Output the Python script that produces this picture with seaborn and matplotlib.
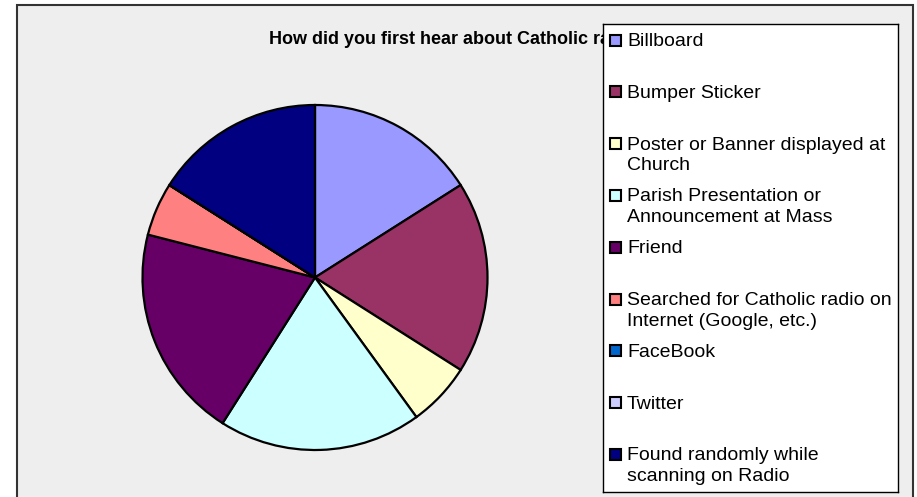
import matplotlib
matplotlib.use("Agg")
import matplotlib.pyplot as plt
from matplotlib.patches import Rectangle
import seaborn as sns

# ---- data ----
sources = [
    "Billboard",
    "Bumper Sticker",
    "Poster or Banner displayed at\nChurch",
    "Parish Presentation or\nAnnouncement at Mass",
    "Friend",
    "Searched for Catholic radio on\nInternet (Google, etc.)",
    "FaceBook",
    "Twitter",
    "Found randomly while\nscanning on Radio",
]
responses = [16, 18, 6, 19, 20, 5, 0, 0, 16]
slice_colors = ["#9999FF", "#993366", "#FFFFCC", "#CCFFFF", "#660066",
                "#FF8080", "#0066CC", "#CCCCFF", "#000080"]
title = "How did you first hear about Catholic radio?"

sns.set_style("white")
plt.rcParams["font.family"] = ["Liberation Sans", "DejaVu Sans"]
plt.rcParams["text.color"] = "black"

W, H = 917, 497
fig = plt.figure(figsize=(W / 100, H / 100), dpi=100, facecolor="white")

# grey chart area with border (open at the bottom)
fig.patches.append(Rectangle((17 / W, -0.05), (913 - 17) / W, (497 - 5) / H + 0.05,
                             transform=fig.transFigure, facecolor="#EEEEEE",
                             edgecolor="#333333", linewidth=1.5, zorder=-1))

# title sits partly behind the legend box, as in the original
fig.text(0.5, 1 - 40 / H, title, ha="center", va="center",
         fontsize=13, fontweight="bold", color="black", zorder=3)

# ---- pie ----
cx, cy, r = 315, 277.5, 172.5
ax = fig.add_axes([(cx - r) / W, (H - cy - r) / H, 2 * r / W, 2 * r / H])
palette = sns.color_palette(slice_colors)
ax.pie(responses, colors=palette, startangle=90, counterclock=False,
       wedgeprops=dict(edgecolor="black", linewidth=1.6))
ax.set_xlim(-1, 1)
ax.set_ylim(-1, 1)
ax.set_aspect("equal")
ax.axis("off")

# ---- legend box ----
lx0, lx1, ly0, ly1 = 603, 898, 24, 492
lax = fig.add_axes([lx0 / W, (H - ly1) / H, (lx1 - lx0) / W, (ly1 - ly0) / H])
lax.set_zorder(5)
lax.set_facecolor("white")
lax.set_xlim(0, lx1 - lx0)
lax.set_ylim(ly1 - ly0, 0)
lax.set_xticks([])
lax.set_yticks([])
for s in lax.spines.values():
    s.set_color("black")
    s.set_linewidth(1.0)

pitch = 51.8
for i, (lab, col) in enumerate(zip(sources, palette)):
    yc = 16 + i * pitch
    lax.add_patch(Rectangle((7, yc - 5.5), 11, 11, facecolor=col,
                            edgecolor="black", linewidth=1.5))
    lax.text(24, yc - 7, lab, ha="left", va="top", fontsize=14,
             linespacing=1.3, color="black")

fig.savefig("out.png", dpi=100, facecolor=fig.get_facecolor())
